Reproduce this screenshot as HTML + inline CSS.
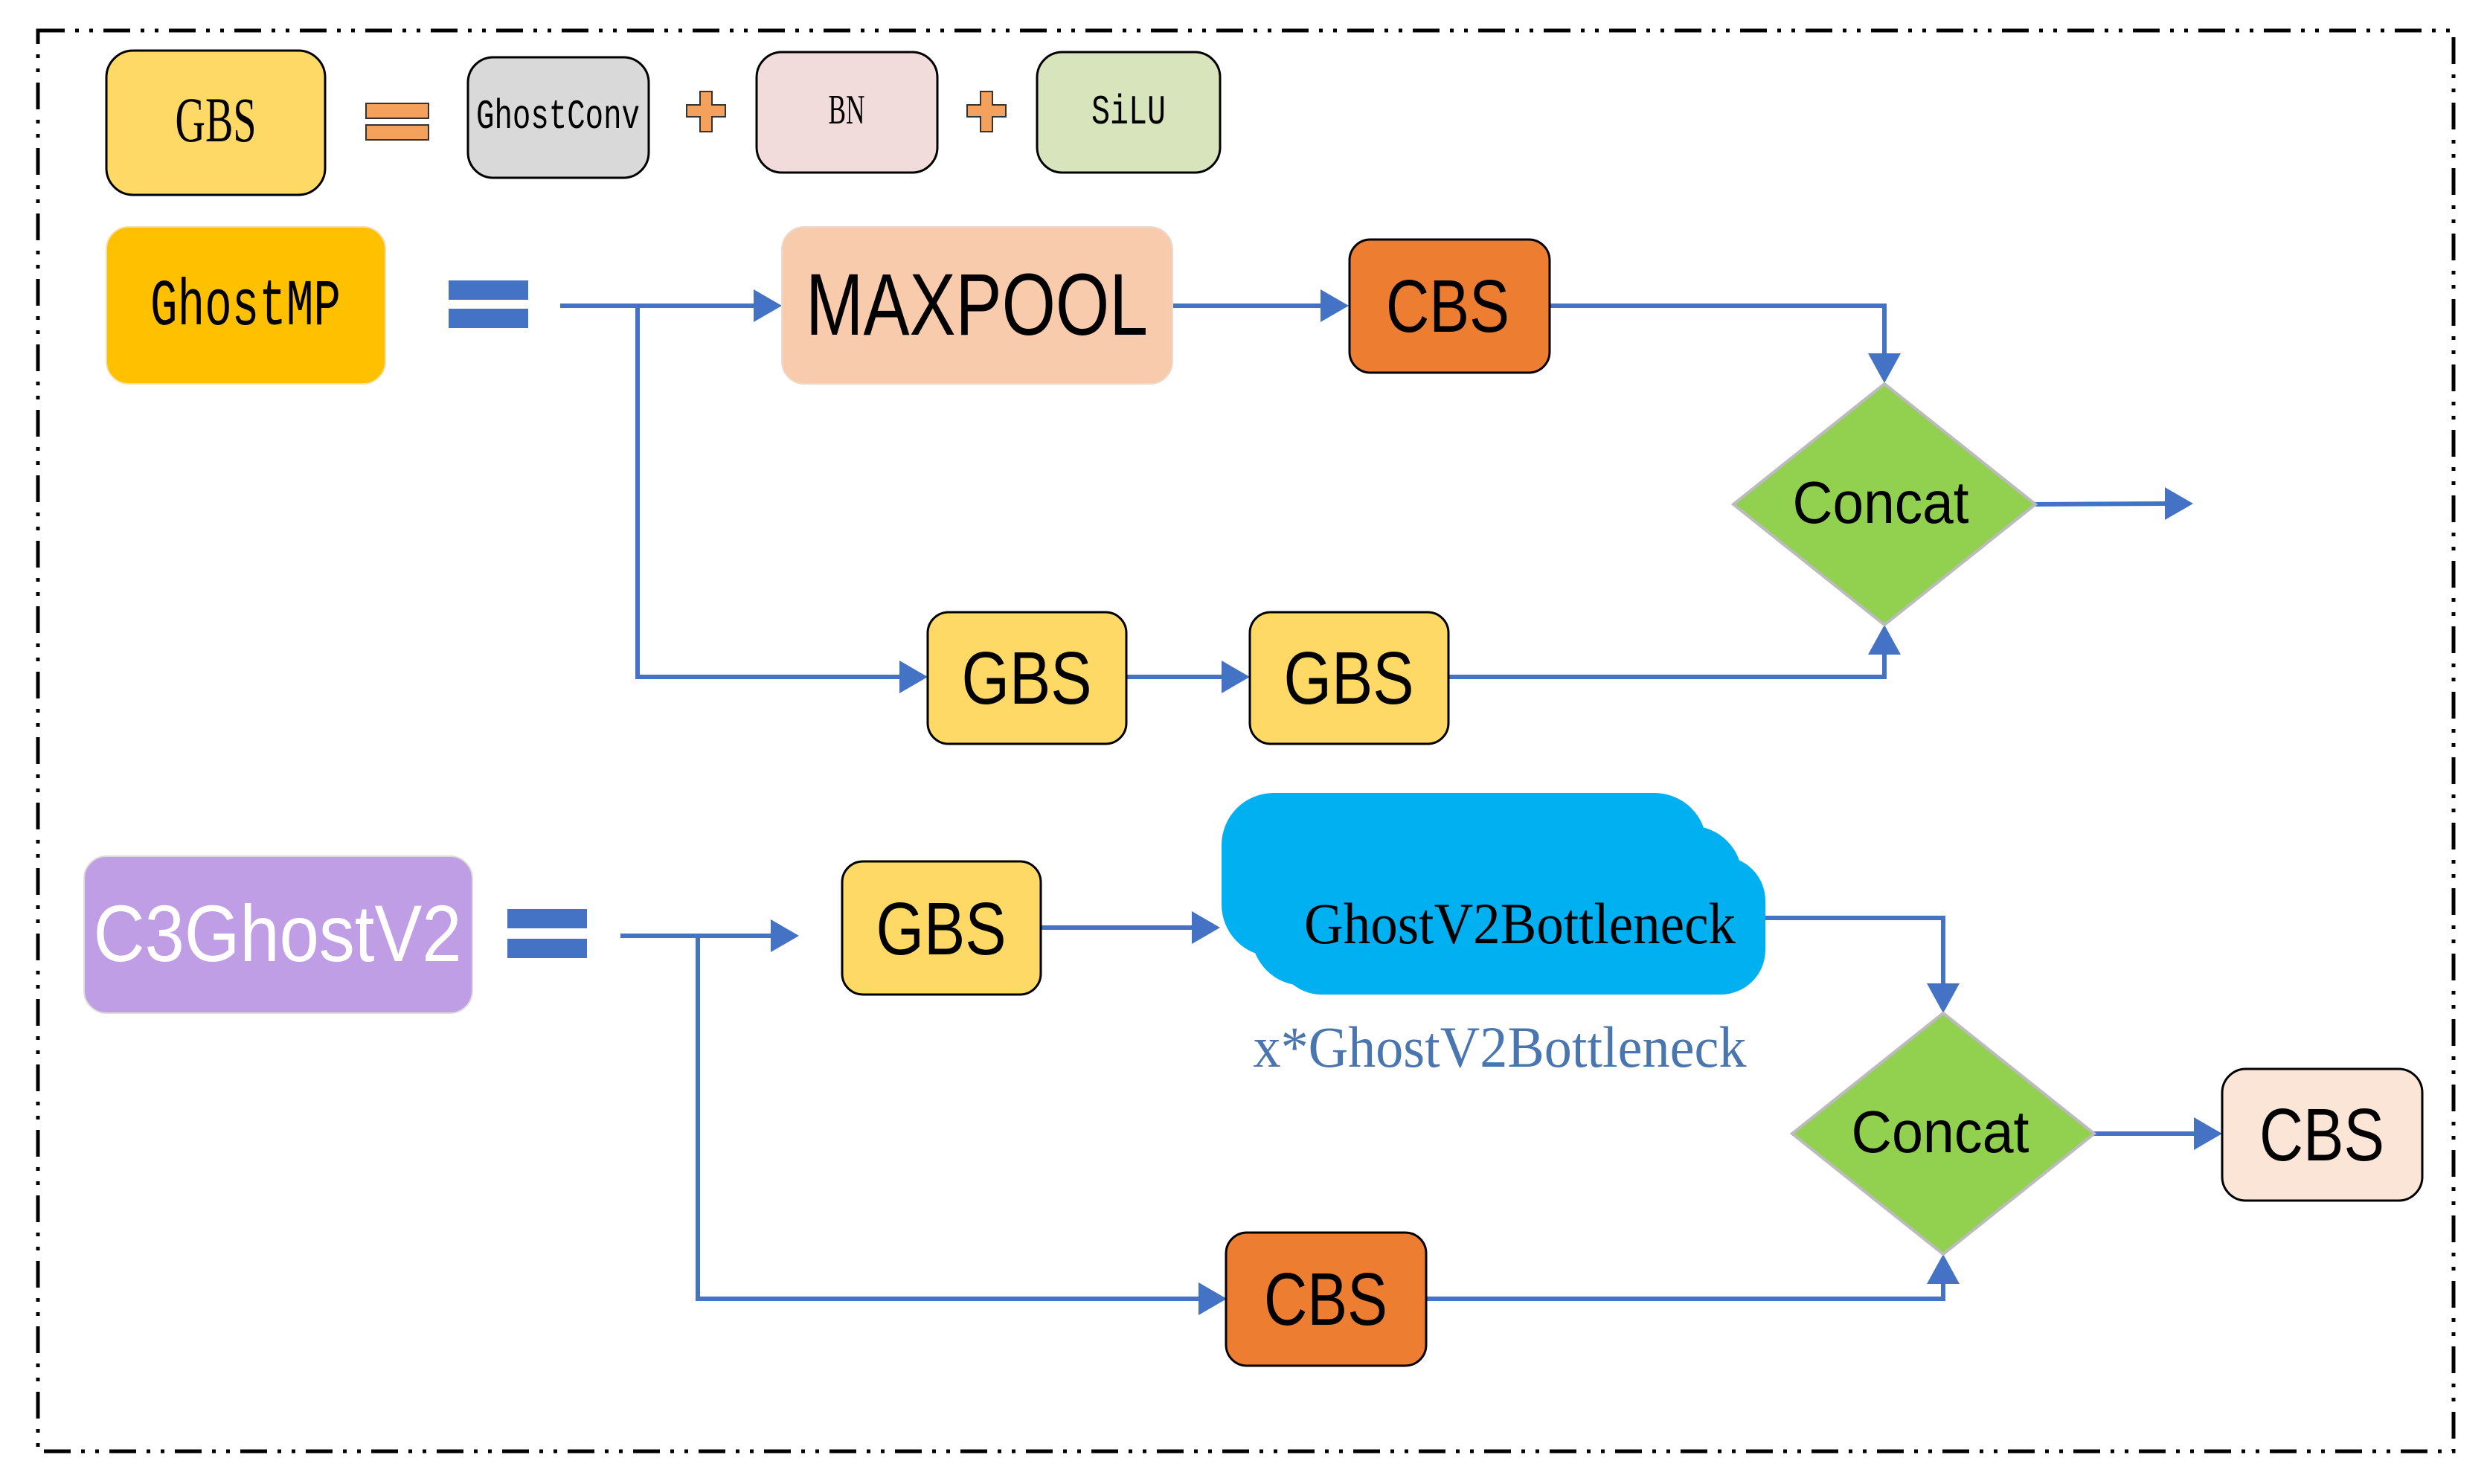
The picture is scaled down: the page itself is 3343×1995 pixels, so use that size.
<!DOCTYPE html>
<html><head><meta charset="utf-8"><style>html,body{margin:0;padding:0;background:#fff}svg{display:block}</style></head>
<body>
<svg width="3343" height="1995" viewBox="0 0 3343 1995" xmlns="http://www.w3.org/2000/svg">
<rect x="0" y="0" width="3343" height="1995" fill="#fff"/>
<rect x="51" y="41" width="3247" height="1910" fill="none" stroke="#000" stroke-width="5" stroke-dasharray="36 14 5 14 5 14"/>

<g stroke="#000" stroke-width="3">
<rect x="143" y="68" width="294" height="194" rx="36" fill="#FFD966"/>
<rect x="629" y="77" width="243" height="162" rx="34" fill="#D9D9D9"/>
<rect x="1017" y="70" width="243" height="162" rx="34" fill="#F2DCDB"/>
<rect x="1394" y="70" width="246" height="162" rx="34" fill="#D8E4BC"/>
</g>
<g fill="#F4A15D" stroke="#333" stroke-width="2">
<rect x="492" y="139" width="84" height="20"/>
<rect x="492" y="168" width="84" height="20"/>
<path d="M941 123h16v18h18v16h-18v20h-16v-20h-18v-16h18z"/>
<path d="M1318 123h16v18h18v16h-18v20h-16v-20h-18v-16h18z"/>
</g>
<g font-family="Liberation Serif, serif" fill="#000" text-anchor="middle">
<text x="290" y="190" font-size="86" textLength="109" lengthAdjust="spacingAndGlyphs">GBS</text>
<text x="750" y="172" font-size="56" font-family="Liberation Mono, monospace" textLength="220" lengthAdjust="spacingAndGlyphs">GhostConv</text>
<text x="1138" y="166" font-size="56" textLength="49" lengthAdjust="spacingAndGlyphs">BN</text>
<text x="1517" y="166" font-size="56" font-family="Liberation Mono, monospace" textLength="100" lengthAdjust="spacingAndGlyphs">SiLU</text>
</g>

<rect x="143" y="305" width="375" height="211" rx="30" fill="#FFC000" stroke="#f0e0b0" stroke-width="2"/>
<text x="330" y="436" font-size="88" font-family="Liberation Mono, monospace" text-anchor="middle" textLength="256" lengthAdjust="spacingAndGlyphs">GhostMP</text>
<rect x="603" y="377" width="107" height="26" fill="#4472C4"/>
<rect x="603" y="415" width="107" height="26" fill="#4472C4"/>

<g stroke="#4472C4" stroke-width="6" fill="none">
<path d="M753 411H1015"/>
<path d="M857 411V910H1210"/>
<path d="M1576 411H1776"/>
<path d="M1514 910H1642"/>
<path d="M2083 411H2533V476"/>
<path d="M1947 910H2533V876"/>
<path d="M2733 678L2910 677"/>
<path d="M834 1258H1037"/>
<path d="M938 1258V1746H1612"/>
<path d="M1399 1247H1602"/>
<path d="M2373 1234H2612V1324"/>
<path d="M1917 1746H2612V1722"/>
<path d="M2812 1524H2950"/>
</g>
<g fill="#4472C4">
<path d="M1051 411l-38 -22v44z"/>
<path d="M1247 910l-38 -22v44z"/>
<path d="M1813 411l-38 -22v44z"/>
<path d="M1680 910l-38 -22v44z"/>
<path d="M2533 515l-22 -40h44z"/>
<path d="M2533 840l-22 40h44z"/>
<path d="M2948 677l-38 -22v44z"/>
<path d="M1074 1258l-38 -22v44z"/>
<path d="M1649 1746l-38 -22v44z"/>
<path d="M1640 1247l-38 -22v44z"/>
<path d="M2612 1362l-22 -40h44z"/>
<path d="M2612 1686l-22 40h44z"/>
<path d="M2987 1524l-38 -22v44z"/>
</g>

<rect x="1051" y="305" width="525" height="211" rx="30" fill="#F8CBAD" stroke="#eadbd0" stroke-width="2"/>
<text x="1313" y="450" font-size="118" font-family="Liberation Sans, sans-serif" text-anchor="middle" textLength="460" lengthAdjust="spacingAndGlyphs">MAXPOOL</text>
<g stroke="#000" stroke-width="3">
<rect x="1814" y="322" width="269" height="179" rx="28" fill="#ED7D31"/>
<rect x="1247" y="823" width="267" height="177" rx="28" fill="#FFD966"/>
<rect x="1680" y="823" width="267" height="177" rx="28" fill="#FFD966"/>
<rect x="1132" y="1158" width="267" height="179" rx="28" fill="#FFD966"/>
<rect x="1648" y="1657" width="269" height="179" rx="28" fill="#ED7D31"/>
<rect x="2987" y="1437" width="269" height="177" rx="32" fill="#FBE5D6"/>
</g>
<polygon points="2533,516 2736,678 2533,840 2330,678" fill="#92D050" stroke="#bbb" stroke-width="4"/>
<polygon points="2612,1362 2815,1524 2612,1686 2409,1524" fill="#92D050" stroke="#bbb" stroke-width="4"/>

<rect x="113" y="1151" width="522" height="211" rx="30" fill="#C09EE6" stroke="#ddd" stroke-width="2"/>
<rect x="682" y="1222" width="107" height="26" fill="#4472C4"/>
<rect x="682" y="1262" width="107" height="26" fill="#4472C4"/>

<g fill="#00B0F0">
<rect x="1642" y="1066" width="652" height="220" rx="70"/>
<rect x="1682" y="1110" width="660" height="215" rx="70"/>
<rect x="1716" y="1151" width="657" height="186" rx="60"/>
</g>

<g font-family="Liberation Sans, sans-serif" text-anchor="middle" fill="#000">
<text x="1946" y="446" font-size="100" textLength="166" lengthAdjust="spacingAndGlyphs">CBS</text>
<text x="1380" y="946" font-size="100" textLength="175" lengthAdjust="spacingAndGlyphs">GBS</text>
<text x="1813" y="946" font-size="100" textLength="175" lengthAdjust="spacingAndGlyphs">GBS</text>
<text x="1265" y="1283" font-size="100" textLength="175" lengthAdjust="spacingAndGlyphs">GBS</text>
<text x="1782" y="1781" font-size="100" textLength="166" lengthAdjust="spacingAndGlyphs">CBS</text>
<text x="3121" y="1560" font-size="100" textLength="168" lengthAdjust="spacingAndGlyphs">CBS</text>
<text x="2528" y="703" font-size="80" textLength="237" lengthAdjust="spacingAndGlyphs">Concat</text>
<text x="2608" y="1549" font-size="80" textLength="239" lengthAdjust="spacingAndGlyphs">Concat</text>
<text x="373" y="1292" font-size="108" fill="#fff" textLength="495" lengthAdjust="spacingAndGlyphs">C3GhostV2</text>
</g>
<g font-family="Liberation Serif, serif" text-anchor="middle">
<text x="2043" y="1268" font-size="78" fill="#000" textLength="580" lengthAdjust="spacingAndGlyphs">GhostV2Bottleneck</text>
<text x="2016" y="1434" font-size="78" fill="#4A76B0" textLength="663" lengthAdjust="spacingAndGlyphs">x*GhostV2Bottleneck</text>
</g>
</svg>
</body></html>
